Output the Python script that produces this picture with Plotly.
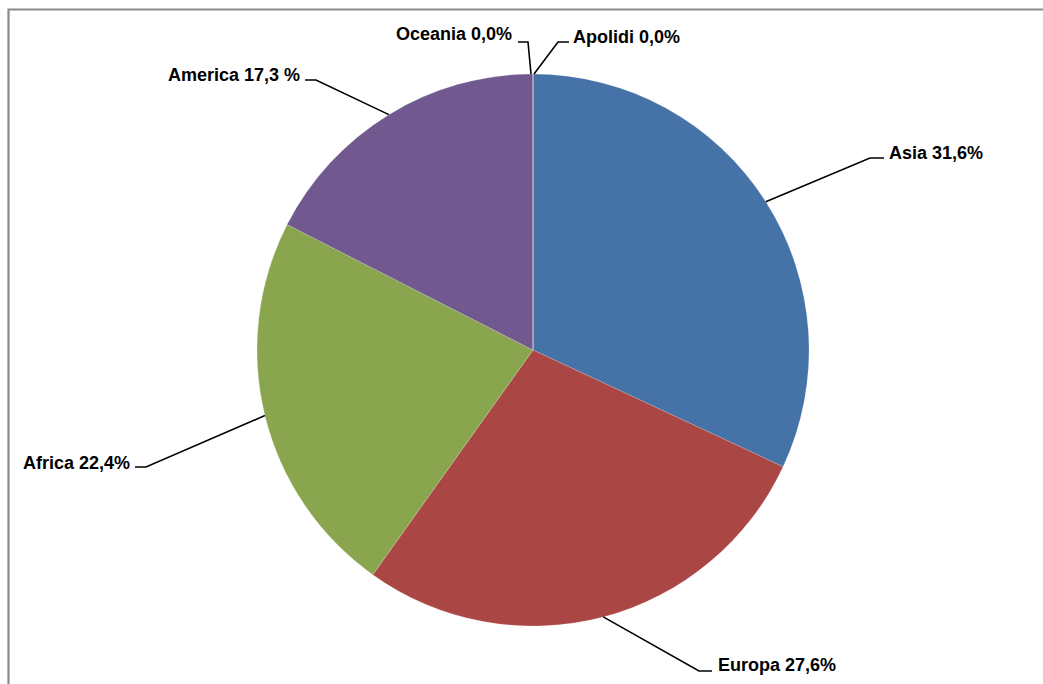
import math
import plotly.graph_objects as go

# ---- data ----
categories = ["Asia", "Europa", "Africa", "America", "Oceania", "Apolidi"]
values = [31.6, 27.6, 22.4, 17.3, 0.0, 0.0]
value_text = ["31,6%", "27,6%", "22,4%", "17,3 %", "0,0%", "0,0%"]
colors = ["#4572A7", "#AA4643", "#89A54E", "#71588F", "#4198AF", "#DB843D"]

# ---- layout constants (pixels) ----
W, H = 1043, 684
CX, CY, R = 533, 350, 276

# label placement: text position, alignment, leader elbow and line height
label_style = {
    "Asia":    dict(tx=887, ty=153, side="left",  lx0=884, lx1=870, ly=158),
    "Europa":  dict(tx=716, ty=665, side="left",  lx0=712, lx1=699, ly=671),
    "Africa":  dict(tx=132, ty=463, side="right", lx0=135, lx1=146, ly=467),
    "America": dict(tx=302, ty=75,  side="right", lx0=305, lx1=316, ly=80),
    "Oceania": dict(tx=514, ty=34,  side="right", lx0=518, lx1=528, ly=42),
    "Apolidi": dict(tx=571, ty=37,  side="left",  lx0=569, lx1=558, ly=42),
}


def px(x):
    return x / W


def py(y):
    return 1 - y / H


fig = go.Figure(
    go.Pie(
        labels=categories,
        values=values,
        sort=False,
        direction="clockwise",
        rotation=0,
        textinfo="none",
        hoverinfo="label+percent",
        marker=dict(colors=colors, line=dict(color="rgba(255,255,255,0.35)", width=0.5)),
        domain=dict(x=[px(CX - R), px(CX + R)], y=[py(CY + R), py(CY - R)]),
        showlegend=False,
    )
)

total = sum(values)
cum = 0.0
shapes = []
annotations = []
for cat, v, vt in zip(categories, values, value_text):
    mid = (cum + v / 2) / total * 2 * math.pi
    cum += v
    ax = CX + R * math.sin(mid)
    ay = CY - R * math.cos(mid)
    if cat == "Oceania":
        ax -= 2
    if cat == "Apolidi":
        ax += 1
    st = label_style[cat]
    shapes.append(dict(
        type="path", xref="paper", yref="paper",
        path=f"M {px(st['lx0'])},{py(st['ly'])} L {px(st['lx1'])},{py(st['ly'])} L {px(ax)},{py(ay)}",
        line=dict(color="black", width=1.6),
    ))
    annotations.append(dict(
        x=px(st["tx"]), y=py(st["ty"]), xref="paper", yref="paper",
        xanchor=st["side"], yanchor="middle", showarrow=False,
        text=f"<b>{cat} {vt}</b>",
        font=dict(family="Liberation Sans, Arial, sans-serif", size=18, color="black"),
    ))

# outer gray frame (top and left edges)
shapes.append(dict(
    type="path", xref="paper", yref="paper",
    path=f"M {px(8.5)},{py(H)} L {px(8.5)},{py(9.5)} L {px(W)},{py(9.5)}",
    line=dict(color="#8a8a8a", width=2.2),
))

fig.update_layout(
    width=W, height=H,
    margin=dict(l=0, r=0, t=0, b=0),
    paper_bgcolor="white",
    plot_bgcolor="white",
    shapes=shapes,
    annotations=annotations,
)

fig.write_html(
    "out.html",
    config={"displayModeBar": False},
    post_script="document.body.style.margin='0';document.body.style.overflow='hidden';",
)
